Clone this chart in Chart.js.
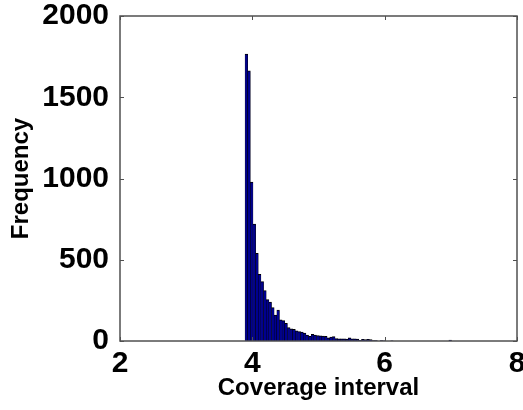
<!DOCTYPE html>
<html>
<head>
<meta charset="utf-8">
<script src="https://cdn.jsdelivr.net/npm/chart.js@4.4.1/dist/chart.umd.min.js"></script>
<style>
  html, body { margin: 0; padding: 0; background: #fff; }
  #wrap { width: 523px; height: 410px; }
</style>
</head>
<body>
<div id="wrap"><canvas id="histChart"></canvas></div>
<script>
// bin centres (bin width 0.04)
const binCenters = [
  3.91, 3.95, 3.99, 4.03, 4.07, 4.11, 4.15, 4.19, 4.23, 4.27,
  4.31, 4.35, 4.39, 4.43, 4.47, 4.51, 4.55, 4.59, 4.63, 4.67,
  4.71, 4.75, 4.79, 4.83, 4.87, 4.91, 4.95, 4.99, 5.03, 5.07,
  5.11, 5.15, 5.19, 5.23, 5.27, 5.31, 5.35, 5.39, 5.43, 5.47,
  5.51, 5.55, 5.59, 5.63, 5.67, 5.71, 5.75, 5.79, 5.83, 5.87,
  5.91, 5.95, 5.99, 6.03, 6.07, 6.11, 6.15, 6.19, 6.23, 6.27,
  6.31, 6.35, 6.39, 6.43, 6.47, 6.51, 6.55, 6.59, 6.63, 6.67,
  6.71, 6.75, 6.79, 6.83, 6.87, 6.91, 6.95, 6.99
];
const frequency = [
  1766, 1663, 978, 720, 540, 410, 365, 310, 255, 240,
  205, 160, 190, 130, 125, 108, 82, 75, 72, 63,
  58, 55, 48, 37, 28, 41, 37, 33, 32, 31,
  29, 20, 24, 27, 15, 14, 13, 14, 12, 20,
  14, 13, 12, 4, 10, 9, 10, 8, 3, 2,
  0, 2, 1, 0, 0, 1, 0, 0, 0, 0,
  0, 0, 0, 0, 0, 0, 0, 0, 0, 0,
  0, 0, 0, 0, 0, 0, 0, 6
];
const xTicks = [2, 4, 6, 8];
const yTicks = [0, 500, 1000, 1500, 2000];

const points = binCenters.map((x, i) => ({ x: x, y: frequency[i] }));

// box round the axes with inward ticks, matlab style
const boxPlugin = {
  id: 'box',
  afterDraw(chart) {
    const { ctx, chartArea: a, scales } = chart;
    ctx.save();
    ctx.strokeStyle = '#505050';
    ctx.lineWidth = 1.5;
    ctx.strokeRect(a.left, a.top, a.right - a.left, a.bottom - a.top);
    ctx.lineWidth = 1;
    ctx.beginPath();
    xTicks.forEach(v => {
      const px = Math.round(scales.x.getPixelForValue(v)) + 0.5;
      ctx.moveTo(px, a.bottom); ctx.lineTo(px, a.bottom - 4);
      ctx.moveTo(px, a.top); ctx.lineTo(px, a.top + 4);
    });
    yTicks.forEach(v => {
      const py = Math.round(scales.y.getPixelForValue(v)) + 0.5;
      ctx.moveTo(a.left, py); ctx.lineTo(a.left + 4, py);
      ctx.moveTo(a.right, py); ctx.lineTo(a.right - 4, py);
    });
    ctx.stroke();
    ctx.restore();
  }
};

const tickFont = { family: 'Liberation Sans, Arial, sans-serif', size: 30, weight: 'bold' };
const titleFont = { family: 'Liberation Sans, Arial, sans-serif', size: 24, weight: 'bold' };

new Chart(document.getElementById('histChart'), {
  type: 'bar',
  data: {
    datasets: [{
      data: points,
      backgroundColor: '#00008f',
      borderColor: '#000000',
      borderWidth: { top: 1, left: 0.5, right: 0.5, bottom: 0 },
      borderSkipped: 'start',
      barPercentage: 1,
      categoryPercentage: 1
    }]
  },
  options: {
    responsive: true,
    maintainAspectRatio: false,
    animation: false,
    layout: { padding: { left: 0, right: 6, top: 16, bottom: 0 } },
    plugins: { legend: { display: false }, tooltip: { enabled: false } },
    scales: {
      x: {
        type: 'linear',
        min: 2, max: 8,
        offset: false,
        afterBuildTicks: s => { s.ticks = xTicks.map(v => ({ value: v })); },
        afterFit: s => { s.height = 69; s.paddingLeft = 0; s.paddingRight = 0; },
        grid: { display: false },
        border: { display: false },
        ticks: { color: '#000', font: { ...tickFont, lineHeight: 1 }, padding: 0, maxRotation: 0, autoSkip: false,
                 callback: v => String(v) },
        title: { display: true, text: 'Coverage interval', color: '#000', font: titleFont, padding: { top: 0, bottom: 7 } }
      },
      y: {
        min: 0, max: 2000,
        afterBuildTicks: s => { s.ticks = yTicks.map(v => ({ value: v })); },
        afterFit: s => { s.width = 120; s.paddingTop = 0; s.paddingBottom = 0; },
        grid: { display: false },
        border: { display: false },
        ticks: { color: '#000', font: tickFont, padding: 3, callback: v => String(v) },
        title: { display: true, text: 'Frequency', color: '#000', font: titleFont, padding: { top: 7, bottom: 0 } }
      }
    }
  },
  plugins: [boxPlugin]
});
</script>
</body>
</html>
